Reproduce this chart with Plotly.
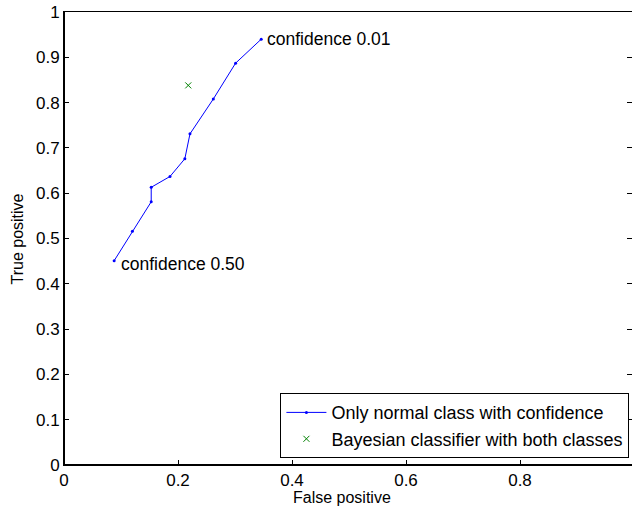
import plotly.graph_objects as go

fp_conf = [0.088, 0.120, 0.153, 0.153, 0.186, 0.212, 0.221, 0.262, 0.301, 0.346]
tp_conf = [0.451, 0.516, 0.581, 0.613, 0.637, 0.676, 0.731, 0.808, 0.887, 0.940]
fp_bayes = [0.218]
tp_bayes = [0.838]
x_ticks = [0, 0.2, 0.4, 0.6, 0.8]
x_tick_labels = ["0", "0.2", "0.4", "0.6", "0.8"]
y_ticks = [0, 0.1, 0.2, 0.3, 0.4, 0.5, 0.6, 0.7, 0.8, 0.9, 1]
y_tick_labels = ["0", "0.1", "0.2", "0.3", "0.4", "0.5", "0.6", "0.7", "0.8", "0.9", "1"]

FONT = "Liberation Sans, Arial, Helvetica, sans-serif"
FS = 17.5

fig = go.Figure()
fig.add_trace(go.Scatter(
    x=fp_conf, y=tp_conf, mode="lines+markers",
    name="Only normal class with confidence",
    line=dict(color="#0000ff", width=1),
    marker=dict(color="#0000ff", size=3),
))
fig.add_trace(go.Scatter(
    x=fp_bayes, y=tp_bayes, mode="markers",
    name="Bayesian classifier with both classes",
    marker=dict(color="#008000", size=6, symbol="x-thin", line=dict(color="#008000", width=1)),
))

fig.add_annotation(x=fp_conf[-1], y=tp_conf[-1], text="confidence 0.01", showarrow=False,
                   xanchor="left", yanchor="middle", xshift=4, font=dict(size=FS, color="black", family=FONT))
fig.add_annotation(x=fp_conf[0], y=tp_conf[0], text="confidence 0.50", showarrow=False,
                   xanchor="left", yanchor="middle", xshift=5, yshift=-3, font=dict(size=FS, color="black", family=FONT))

fig.add_annotation(xref="paper", yref="paper", x=0.49, y=-0.048, text="False positive", showarrow=False,
                   xanchor="center", yanchor="top", font=dict(size=16, color="black", family=FONT))
fig.add_annotation(xref="paper", yref="paper", x=-0.081, y=0.5, text="True positive", showarrow=False,
                   textangle=-90, xanchor="center", yanchor="middle", font=dict(size=16, color="black", family=FONT))

fig.update_layout(
    width=632, height=508,
    margin=dict(l=64, r=0, t=12, b=43, autoexpand=False),
    paper_bgcolor="white", plot_bgcolor="white",
    font=dict(family=FONT, size=FS, color="black"),
    showlegend=True,
    legend=dict(x=0.381, y=0.015, xanchor="left", yanchor="bottom",
                bgcolor="white", bordercolor="black", borderwidth=1,
                font=dict(size=18, family=FONT), tracegroupgap=0, itemwidth=40),
    xaxis=dict(range=[0, 0.9965], tickvals=x_ticks, ticktext=x_tick_labels,
               ticks="inside", ticklen=5, tickcolor="black", showgrid=False, zeroline=False,
               showline=True, linecolor="black", linewidth=1, mirror=True,
               tickfont=dict(size=17, family=FONT)),
    yaxis=dict(range=[0, 1], tickvals=y_ticks, ticktext=y_tick_labels,
               ticks="inside", ticklen=5, tickcolor="black", showgrid=False, zeroline=False,
               showline=True, linecolor="black", linewidth=1, mirror="ticks",
               tickfont=dict(size=17, family=FONT)),
)
fig.add_shape(type="line", xref="paper", yref="paper", x0=0, x1=1, y0=0, y1=0,
              line=dict(color="black", width=2))
fig.add_shape(type="line", xref="paper", yref="paper", x0=0, x1=0, y0=0, y1=1,
              line=dict(color="black", width=2))

fig.write_html("out.html")
